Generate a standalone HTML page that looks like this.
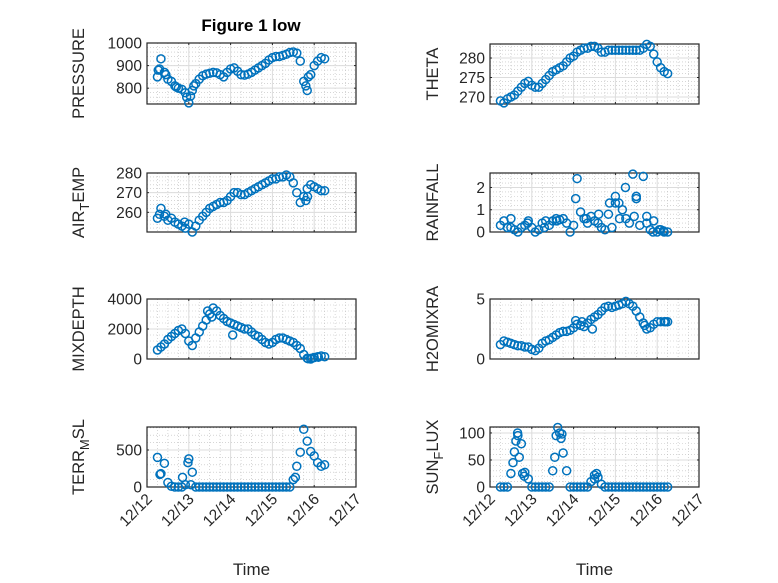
<!DOCTYPE html>
<html><head><meta charset="utf-8"><style>
body{margin:0;background:#fff;}
svg{display:block;font-family:"Liberation Sans","DejaVu Sans",sans-serif;}
</style></head><body>
<svg id="fig" width="778" height="583" viewBox="0 0 778 583"></svg>
<script>
// ---- data (time in days since 12/12 00:00, 2-hour steps from d=0.25) ----
const xTickLabels = ["12/12","12/13","12/14","12/15","12/16","12/17"];
const pressure = [850,930,870,840,830,810,800,795,780,735,790,820,840,855,862,866,870,868,860,850,870,885,890,875,860,858,862,870,880,890,900,910,925,935,940,940,945,950,958,960,955,920,830,790,860,900,920,935,930];
const pressureExtraT = [0.27,0.3,0.95,3.8,3.86,0.45,0.7,1.04,1.12];
const pressureExtraV = [880,885,760,810,850,860,805,765,810];
const theta = [269,268.5,269.5,270,270.5,271.5,272.5,273.5,274,273,272.5,272.5,273.5,274.5,275.5,276.5,277,277.5,278,279,280,280.5,281.5,282,282.5,282.5,283,283,282.5,281.5,281.5,282,282,282,282,282,282,282,282,282,282,282.5,283.5,283,281,279,277.5,276.5,276];
const airTemp = [257,262,258,256,257,255,254,253,252,254,250,253,256,258,260,262,263,264,265,265,266,268,270,270,269,269,270,271,272,273,274,275,276,277,277,278,278,279,278,275,270,265,268,272,274,273,272,271,271];
const airExtraT = [0.3,3.8,3.84,0.45,0.9];
const airExtraV = [259,266,268,259,255];
const rainfall = [0.3,0.5,0.2,0.6,0.1,0.0,0.2,0.3,0.5,0.2,0.0,0.1,0.4,0.5,0.3,0.5,0.6,0.55,0.6,0.4,0.0,0.3,2.4,0.9,0.6,0.4,0.7,0.5,0.4,0.2,0.1,0.8,0.2,1.6,1.3,1.0,0.6,0.4,2.6,1.6,0.3,2.5,0.7,0.1,0.5,0.0,0.1,0.0,0.0];
const rainExtraT = [2.05,3.24,3.5,2.86,3.0,3.1,2.6,3.45,0.5,0.9,1.3,1.6,2.3,3.75,3.9,4.05,4.15];
const rainExtraV = [1.5,2.0,1.5,1.3,1.3,0.6,0.8,0.7,0.2,0.4,0.2,0.5,0.6,0.4,0.0,0.1,0.05];
const mixDepth = [600,800,1000,1300,1500,1700,1900,2000,1700,1200,900,1400,1800,2200,2600,3000,3400,3200,2900,2700,2500,2400,2300,2200,2100,2000,2000,1800,1600,1500,1300,1100,1000,1100,1300,1400,1400,1300,1200,1100,900,700,300,50,0,100,150,200,150];
const mixExtraT = [1.45,2.05,1.55,3.85,3.95,4.1];
const mixExtraV = [3200,1600,2800,20,60,120];
const h2o = [1.2,1.5,1.4,1.3,1.2,1.1,1.1,1.0,1.0,0.8,0.7,0.9,1.3,1.5,1.6,1.8,2.0,2.2,2.3,2.3,2.4,2.6,2.9,2.8,2.7,3.0,3.3,3.5,3.7,4.0,4.3,4.4,4.3,4.4,4.5,4.6,4.8,4.6,4.4,4.0,3.5,3.0,2.5,2.6,2.9,3.1,3.1,3.1,3.1];
const h2oExtraT = [2.05,2.2,2.45,3.7,4.2];
const h2oExtraV = [3.2,3.1,2.5,2.8,3.1];
const terrMsl = [400,180,320,60,10,0,0,0,30,380,200,0,0,0,0,0,0,0,0,0,0,0,0,0,0,0,0,0,0,0,0,0,0,0,0,0,0,0,0,100,280,470,780,620,480,420,330,280,300];
const terrExtraT = [0.31,0.98,0.85,1.05,3.55];
const terrExtraV = [170,330,130,30,130];
const sunFlux = [0,0,0,25,65,95,80,27,15,0,0,0,0,0,0,30,95,100,63,30,0,0,0,0,0,0,10,22,18,5,0,0,0,0,0,0,0,0,0,0,0,0,0,0,0,0,0,0,0];
const sunExtraT = [0.55,0.62,0.66,0.7,0.78,0.82,1.55,1.62,1.7,1.72,2.55,2.5];
const sunExtraV = [45,85,100,55,25,20,55,110,90,98,25,15];

const NS="http://www.w3.org/2000/svg";
const svg=document.getElementById('fig');
function mk(tag,attrs,parent){const e=document.createElementNS(NS,tag);for(const k in attrs)e.setAttribute(k,attrs[k]);(parent||svg).appendChild(e);return e;}

const panels=[
 {name:"pressure",x0:147,x1:356,y0:43,y1:104,ymin:730,ymax:1000,ticks:[800,900,1000],minor:20,vals:pressure,ex:pressureExtraT,ey:pressureExtraV,label:["PRESSURE"],lx:78,bottom:false},
 {name:"theta",x0:490,x1:699,y0:44,y1:104,ymin:268.2,ymax:283.6,ticks:[270,275,280],minor:1,vals:theta,ex:[],ey:[],label:["THETA"],lx:432,bottom:false},
 {name:"air-temp",x0:147,x1:356,y0:173,y1:232,ymin:250,ymax:280,ticks:[260,270,280],minor:2,vals:airTemp,ex:airExtraT,ey:airExtraV,label:["AIR","T","EMP"],lx:78,bottom:false},
 {name:"rainfall",x0:490,x1:699,y0:173,y1:232,ymin:0,ymax:2.65,ticks:[0,1,2],minor:0.2,vals:rainfall,ex:rainExtraT,ey:rainExtraV,label:["RAINFALL"],lx:432,bottom:false},
 {name:"mixdepth",x0:147,x1:356,y0:299,y1:359,ymin:0,ymax:4000,ticks:[0,2000,4000],minor:400,vals:mixDepth,ex:mixExtraT,ey:mixExtraV,label:["MIXDEPTH"],lx:78,bottom:false},
 {name:"h2omixra",x0:490,x1:699,y0:299,y1:359,ymin:0,ymax:5,ticks:[0,5],minor:0.5,vals:h2o,ex:h2oExtraT,ey:h2oExtraV,label:["H2OMIXRA"],lx:432,bottom:false},
 {name:"terr-msl",x0:147,x1:356,y0:427,y1:487,ymin:0,ymax:811,ticks:[0,500],minor:100,vals:terrMsl,ex:terrExtraT,ey:terrExtraV,label:["TERR","M","SL"],lx:78,bottom:true},
 {name:"sun-flux",x0:490,x1:699,y0:427,y1:487,ymin:0,ymax:111,ticks:[0,50,100],minor:10,vals:sunFlux,ex:sunExtraT,ey:sunExtraV,label:["SUN","F","LUX"],lx:432,bottom:true}
];

panels.forEach(p=>{
  const g=mk('g',{});
  
  
  const xs=d=>p.x0+(p.x1-p.x0)*d/5;
  const ys=v=>p.y1-(p.y1-p.y0)*(v-p.ymin)/(p.ymax-p.ymin);
  mk('rect',{x:p.x0,y:p.y0,width:p.x1-p.x0,height:p.y1-p.y0,fill:'#fff'},g);
  for(let d=0.25;d<5;d+=0.25){if(Math.abs(d-Math.round(d))<1e-6)continue;
    mk('line',{x1:xs(d),x2:xs(d),y1:p.y0,y2:p.y1,stroke:'#bdbdbd','stroke-width':0.6,'stroke-dasharray':'1,2'},g);}
  const m0=Math.ceil(p.ymin/p.minor)*p.minor;
  for(let v=m0;v<p.ymax;v+=p.minor){mk('line',{x1:p.x0,x2:p.x1,y1:ys(v),y2:ys(v),stroke:'#bdbdbd','stroke-width':0.6,'stroke-dasharray':'1,2'},g);}
  for(let d=1;d<5;d++) mk('line',{x1:xs(d),x2:xs(d),y1:p.y0,y2:p.y1,stroke:'#dcdcdc','stroke-width':1},g);
  p.ticks.forEach(v=>{ if(v>p.ymin&&v<p.ymax) mk('line',{x1:p.x0,x2:p.x1,y1:ys(v),y2:ys(v),stroke:'#dcdcdc','stroke-width':1},g);});
  mk('rect',{x:p.x0,y:p.y0,width:p.x1-p.x0,height:p.y1-p.y0,fill:'none',stroke:'#262626','stroke-width':1.2},g);
  for(let d=0;d<=5;d++){mk('line',{x1:xs(d),x2:xs(d),y1:p.y1,y2:p.y1-2,stroke:'#262626'},g);mk('line',{x1:xs(d),x2:xs(d),y1:p.y0,y2:p.y0+2,stroke:'#262626'},g);}
  p.ticks.forEach(v=>{
    mk('line',{x1:p.x0,x2:p.x0+2,y1:ys(v),y2:ys(v),stroke:'#262626'},g);
    mk('line',{x1:p.x1,x2:p.x1-2,y1:ys(v),y2:ys(v),stroke:'#262626'},g);
    const t=mk('text',{x:p.x0-5,y:ys(v)+5.5,'text-anchor':'end','font-size':15.5,fill:'#262626'},g);
    t.textContent=v;
    
    
  });
  const cy=(p.y0+p.y1)/2;
  const yl=mk('text',{x:0,y:0,'text-anchor':'middle','font-size':16.5,fill:'#262626',transform:`translate(${p.lx+6},${cy}) rotate(-90)`},g);
  
  
  if(p.label.length===1){yl.textContent=p.label[0];}
  else{
    const a=mk('tspan',{},yl);a.textContent=p.label[0];
    const b=mk('tspan',{dy:5,'font-size':13},yl);b.textContent=p.label[1];
    const c=mk('tspan',{dy:-5},yl);c.textContent=p.label[2];
  }
  const mg=mk('g',{fill:'none',stroke:'#0072BD','stroke-width':1.5},g);
  
  
  p.vals.forEach((v,i)=>{mk('circle',{cx:xs(0.25+i/12),cy:ys(v),r:4},mg);});
  p.ex.forEach((d,i)=>{mk('circle',{cx:xs(d),cy:ys(p.ey[i]),r:4},mg);});
  if(p.bottom){
    xTickLabels.forEach((s,i)=>{
      const t=mk('text',{x:0,y:0,'text-anchor':'end','font-size':15.5,fill:'#262626',transform:`translate(${xs(i)+6},${p.y1+13}) rotate(-45)`},g);
      t.textContent=s;
      
      
    });
    const xt=mk('text',{x:(p.x0+p.x1)/2,y:575,'text-anchor':'middle','font-size':17,fill:'#262626'},g);
    xt.textContent='Time';
    
    
  }
});
const title=mk('text',{x:251,y:31,'text-anchor':'middle','font-size':17,'font-weight':'bold',fill:'#000'});
title.textContent='Figure 1 low';


</script>
</body></html>
